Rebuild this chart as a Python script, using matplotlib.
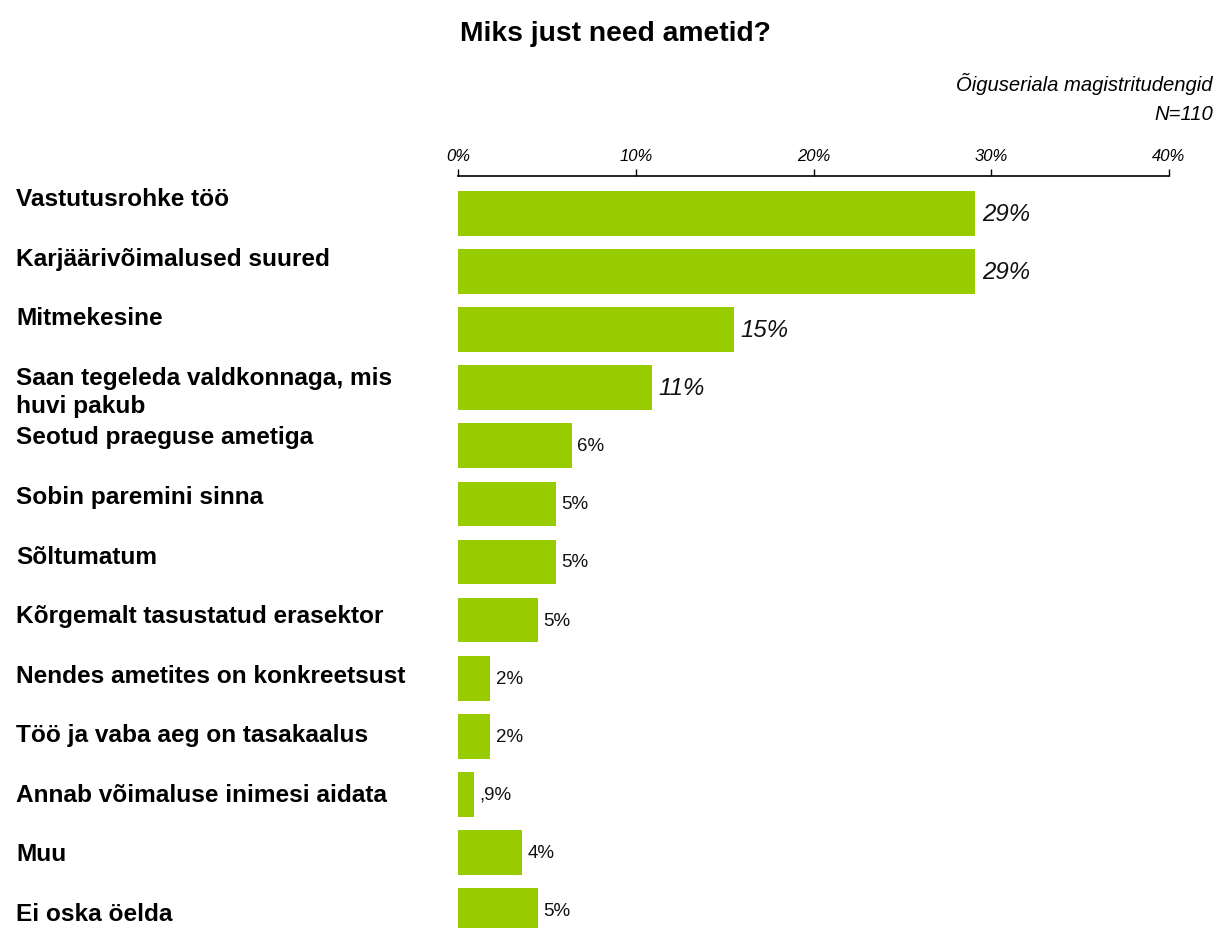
import numpy as np
import matplotlib.pyplot as plt

plt.rcParams['font.family'] = ['Liberation Sans', 'DejaVu Sans']

categories = ['Vastutusrohke töö', 'Karjäärivõimalused suured', 'Mitmekesine',
              'Saan tegeleda valdkonnaga, mis\nhuvi pakub', 'Seotud praeguse ametiga',
              'Sobin paremini sinna', 'Sõltumatum', 'Kõrgemalt tasustatud erasektor',
              'Nendes ametites on konkreetsust', 'Töö ja vaba aeg on tasakaalus',
              'Annab võimaluse inimesi aidata', 'Muu', 'Ei oska öelda']
values = [29.1, 29.1, 15.5, 10.9, 6.4, 5.5, 5.5, 4.5, 1.8, 1.8, 0.9, 3.6, 4.5]
value_labels = ['29%', '29%', '15%', '11%', '6%', '5%', '5%', '5%', '2%', '2%', ',9%', '4%', '5%']
big_label = [True, True, True, True] + [False] * 9
ticks = [0, 10, 20, 30, 40]
tick_labels = ['0%', '10%', '20%', '30%', '40%']

W, H = 1223, 929
fig = plt.figure(figsize=(W / 100, H / 100), dpi=100)
ax = fig.add_axes([458 / W, 0, (1169 - 458) / W, 1 - 177 / H])

y = np.arange(len(categories))
ax.barh(y, values, height=0.77, color='#99cc00')
ax.set_xlim(0, 40)
ax.set_ylim(12.3, -0.644)

for i, (v, lab) in enumerate(zip(values, value_labels)):
    if big_label[i]:
        ax.annotate(lab, xy=(v, i), xytext=(5, 0), textcoords='offset points',
                    va='center', ha='left', fontsize=17.3, style='italic', color='#111111')
    else:
        ax.annotate(lab, xy=(v, i), xytext=(4, 0), textcoords='offset points',
                    va='center', ha='left', fontsize=13.5, color='#111111')

# category labels sit on their own spacing at the left (top of first line)
label_px = np.linspace(188, 903, len(categories))
for lab, py in zip(categories, label_px):
    fig.text(16 / W, 1 - py / H, lab, ha='left', va='top',
             fontsize=17.6, fontweight='bold', linespacing=1.27)

ax.xaxis.tick_top()
ax.set_xticks(ticks)
ax.set_xticklabels(tick_labels, fontsize=12, style='italic')
ax.tick_params(axis='x', direction='out', length=5, width=1, pad=4, color='black')
ax.set_yticks([])
for s in ['bottom', 'left', 'right']:
    ax.spines[s].set_visible(False)
ax.spines['top'].set_linewidth(1.2)

fig.text(615 / W, 1 - 34 / H, 'Miks just need ametid?', ha='center', va='center',
         fontsize=20.3, fontweight='bold')
fig.text(1213 / W, 1 - 84 / H, 'Õiguseriala magistritudengid', ha='right', va='center',
         fontsize=14.6, style='italic')
fig.text(1213 / W, 1 - 114 / H, 'N=110', ha='right', va='center',
         fontsize=14.6, style='italic')

fig.savefig('out.png', dpi=100)
